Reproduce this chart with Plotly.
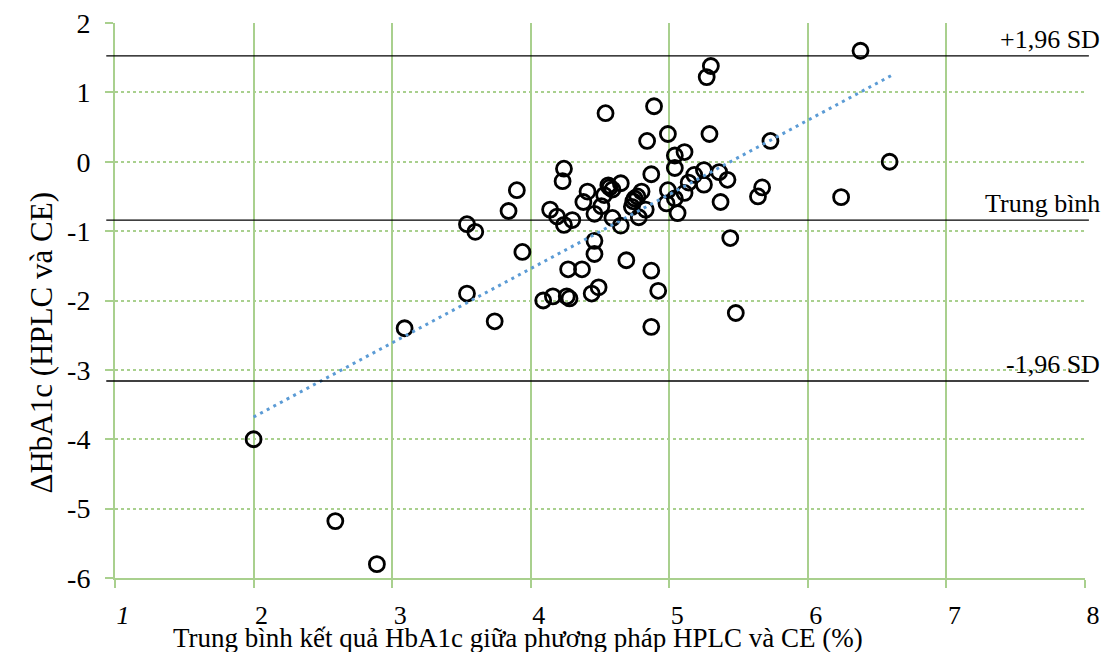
import plotly.graph_objects as go

# Data
mean_x = [2.00, 2.59, 2.89, 3.09, 3.54, 3.60, 3.54, 3.74, 3.84, 3.90,
          3.94, 4.09, 4.14, 4.16, 4.19, 4.23, 4.24, 4.24, 4.26, 4.28,
          4.27, 4.30, 4.37, 4.38, 4.41, 4.44, 4.46, 4.46, 4.46, 4.49,
          4.51, 4.53, 4.54, 4.56, 4.57, 4.59, 4.59, 4.65, 4.65, 4.69,
          4.73, 4.75, 4.78, 4.80, 4.83, 4.84, 4.87, 4.89, 4.87, 4.87,
          4.92, 4.99, 4.99, 4.98, 5.04, 5.04, 5.06, 5.04, 5.11, 5.11,
          5.14, 5.18, 5.25, 5.25, 5.27, 5.30, 5.29, 5.36, 5.37, 5.42,
          5.44, 5.48, 5.64, 5.67, 5.73, 6.24, 6.38, 6.59, 4.77, 4.74]
diff_y = [-4.00, -5.18, -5.80, -2.40, -0.90, -1.01, -1.90, -2.30, -0.71, -0.41,
          -1.30, -2.00, -0.69, -1.94, -0.79, -0.28, -0.10, -0.91, -1.94, -1.97,
          -1.55, -0.84, -1.55, -0.58, -0.43, -1.90, -0.75, -1.14, -1.33, -1.81,
          -0.64, -0.48, 0.70, -0.34, -0.37, -0.40, -0.81, -0.31, -0.92, -1.42,
          -0.65, -0.53, -0.80, -0.43, -0.69, 0.30, -0.18, 0.80, -1.57, -2.38,
          -1.86, 0.40, -0.41, -0.60, 0.09, -0.09, -0.74, -0.53, 0.14, -0.45,
          -0.30, -0.19, -0.12, -0.33, 1.22, 1.38, 0.40, -0.15, -0.58, -0.26,
          -1.10, -2.18, -0.50, -0.37, 0.30, -0.51, 1.60, 0.00, -0.50, -0.57]

trend_x = [2.0, 6.6]
trend_y = [-3.68, 1.24]

limit_values = [1.525, -0.84, -3.16]
limit_labels = ["+1,96 SD", "Trung bình", "-1,96 SD"]

x_ticks = [1, 2, 3, 4, 5, 6, 7, 8]
x_ticktext = ["<i>1</i>", "2", "3", "4", "5", "6", "7", "8"]
y_ticks = [2, 1, 0, -1, -2, -3, -4, -5, -6]

x_title = "Trung bình kết quả HbA1c giữa phương pháp HPLC và CE (%)"
y_title = "ΔHbA1c (HPLC và CE)"

GREEN = "#A9D08E"
FONT = "Liberation Serif"

fig = go.Figure()

fig.add_trace(go.Scatter(
    x=mean_x, y=diff_y, mode="markers",
    marker=dict(symbol="circle-open", size=15, color="black",
                line=dict(color="black", width=2.8)),
    showlegend=False, hoverinfo="x+y"))

fig.add_trace(go.Scatter(
    x=trend_x, y=trend_y, mode="lines",
    line=dict(color="#5B9BD5", width=3, dash="3px,4.5px"),
    showlegend=False, hoverinfo="skip"))

for v, lab in zip(limit_values, limit_labels):
    fig.add_shape(type="line", xref="paper", yref="y",
                  x0=-0.009, x1=1.004, y0=v, y1=v,
                  line=dict(color="black", width=1.3), layer="above")
    fig.add_annotation(xref="paper", yref="y", x=1.0175, y=v,
                       text=lab, showarrow=False, xanchor="right",
                       yanchor="bottom", yshift=0,
                       font=dict(family=FONT, size=26, color="black"))

fig.add_annotation(xref="paper", yref="paper", x=0.415, y=-0.109,
                   text=x_title, showarrow=False, xanchor="center",
                   yanchor="middle",
                   font=dict(family=FONT, size=27, color="black"))
fig.add_annotation(xref="paper", yref="paper", x=-0.076, y=0.423,
                   text=y_title, showarrow=False, textangle=-90,
                   xanchor="center", yanchor="middle",
                   font=dict(family=FONT, size=31, color="black"))

fig.update_layout(
    width=1105, height=652,
    margin=dict(l=115, r=20, t=23, b=74, autoexpand=False),
    paper_bgcolor="white", plot_bgcolor="white",
    font=dict(family=FONT, size=28, color="black"),
    xaxis=dict(range=[1, 8], tickvals=x_ticks, ticktext=x_ticktext,
               automargin=False,
               showgrid=True, gridcolor=GREEN, gridwidth=2,
               showline=True, linecolor=GREEN, linewidth=2,
               ticks="outside", ticklen=8, tickcolor=GREEN, tickwidth=2,
               ticklabelstandoff=5, ticklabelshift=8, zeroline=False,
               ticklabeloverflow="allow",
               tickfont=dict(family=FONT, size=26)),
    yaxis=dict(range=[-6, 2], tickvals=y_ticks, ticktext=[str(t) for t in y_ticks],
               automargin=False,
               showgrid=True, gridcolor=GREEN, gridwidth=2, griddash="dot",
               showline=True, linecolor=GREEN, linewidth=2,
               ticks="outside", ticklen=8, tickcolor=GREEN, tickwidth=2,
               ticklabelstandoff=9, zeroline=False,
               ticklabeloverflow="allow",
               tickfont=dict(family=FONT, size=28)),
)

fig.write_html("out.html",
               config={"displayModeBar": False},
               post_script="document.body.style.margin='0px';"
                           "document.body.style.overflow='hidden';")
